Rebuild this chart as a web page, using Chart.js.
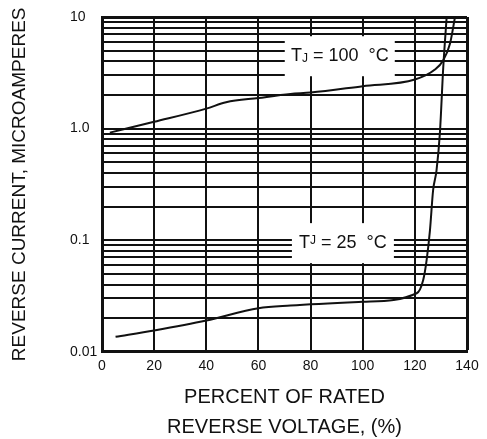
<!DOCTYPE html>
<html lang="en">
<head>
    <meta charset="UTF-8">
    <title>Reverse Current vs Reverse Voltage</title>
    <script src="https://cdn.jsdelivr.net/npm/chart.js"></script>
    <style>
        body { margin: 0; background: #fff; }
        canvas { display: block; }
    </style>
</head>
<body>
    <canvas id="chart" width="487" height="439"></canvas>
    <script>
        // percent of rated reverse voltage / reverse current (uA)
        const voltage100 = [3, 20, 40, 47.6, 60, 72.3, 80, 100, 120, 127.7, 130.9, 133.5, 135.4];
        const current100 = [0.92, 1.15, 1.51, 1.72, 1.88, 2.04, 2.1, 2.4, 2.75, 3.38, 4.1, 5.8, 10];

        const voltage25 = [5.2, 20, 40, 60, 72.3, 100, 120.7, 123.2, 124.5, 125.8, 127, 128.3, 129.6, 130.9, 132.2];
        const current25 = [0.0136, 0.0155, 0.019, 0.0245, 0.0259, 0.028, 0.0334, 0.044, 0.066, 0.123, 0.28, 0.42, 0.91, 3.56, 10];

        const yTickValues = [
            0.01, 0.02, 0.03, 0.04, 0.05, 0.06, 0.07, 0.08, 0.09,
            0.1, 0.2, 0.3, 0.4, 0.5, 0.6, 0.7, 0.8, 0.9,
            1, 2, 3, 4, 5, 6, 7, 8, 9, 10
        ];
        const yTickLabels = { 0.01: '0.01', 0.1: '0.1', 1: '1.0', 10: '10' };

        const curveLabels = [
            { sub: 'J', rest: ' = 100  \u00B0C', x: 91.2, y: 4.45 },
            { sub: 'J', rest: ' = 25  \u00B0C', x: 92.4, y: 0.094 }
        ];
        const yTitle = 'REVERSE CURRENT, MICROAMPERES';
        const xTitle = ['PERCENT OF RATED', 'REVERSE VOLTAGE, (%)'];

        const FONT = '"Liberation Sans", Arial, sans-serif';
        const INK = '#111';
        Chart.defaults.font.family = FONT;
        Chart.defaults.color = INK;

        function toPoints(xs, ys) {
            return xs.map((x, i) => ({ x: x, y: ys[i] }));
        }

        // white boxes with the temperature labels, and the rotated y title
        const labelPlugin = {
            id: 'labels',
            beforeDatasetsDraw(chart) {
                const ctx = chart.ctx;
                const xs = chart.scales.x, ys = chart.scales.y;
                ctx.save();
                curveLabels.forEach((lab, i) => {
                    const cx = xs.getPixelForValue(lab.x);
                    const cy = ys.getPixelForValue(lab.y);
                    const w = i === 0 ? 110 : 102;
                    ctx.fillStyle = '#fff';
                    ctx.fillRect(cx - w / 2, cy - 20, w, 40);

                    ctx.fillStyle = INK;
                    ctx.textBaseline = 'middle';
                    ctx.textAlign = 'left';
                    ctx.font = '18px ' + FONT;
                    const tW = ctx.measureText('T').width;
                    ctx.font = '12px ' + FONT;
                    const jW = ctx.measureText(lab.sub).width;
                    ctx.font = '18px ' + FONT;
                    const rW = ctx.measureText(lab.rest).width;
                    let x = cx - (tW + jW + rW) / 2;
                    ctx.fillText('T', x, cy);
                    x += tW;
                    ctx.font = '12px ' + FONT;
                    ctx.fillText(lab.sub, x, i === 0 ? cy + 2 : cy - 2);
                    x += jW;
                    ctx.font = '18px ' + FONT;
                    ctx.fillText(lab.rest, x, cy);
                });
                ctx.restore();
            },
            afterDraw(chart) {
                const ctx = chart.ctx;
                const area = chart.chartArea;
                ctx.save();
                ctx.translate(20, (area.top + area.bottom) / 2);
                ctx.rotate(-Math.PI / 2);
                ctx.font = '19px ' + FONT;
                ctx.fillStyle = INK;
                ctx.textAlign = 'center';
                ctx.textBaseline = 'middle';
                ctx.fillText(yTitle, 0, 0);
                ctx.restore();
            }
        };

        new Chart(document.getElementById('chart'), {
            type: 'line',
            data: {
                datasets: [
                    {
                        label: 'TJ = 100 C',
                        data: toPoints(voltage100, current100),
                        borderColor: INK,
                        borderWidth: 2,
                        pointRadius: 0,
                        cubicInterpolationMode: 'monotone',
                        fill: false
                    },
                    {
                        label: 'TJ = 25 C',
                        data: toPoints(voltage25, current25),
                        borderColor: INK,
                        borderWidth: 2,
                        pointRadius: 0,
                        cubicInterpolationMode: 'monotone',
                        fill: false
                    }
                ]
            },
            options: {
                responsive: false,
                animation: false,
                devicePixelRatio: 1,
                layout: { padding: { left: 70, top: 17, right: 20, bottom: 0 } },
                plugins: {
                    legend: { display: false },
                    tooltip: { enabled: false }
                },
                scales: {
                    x: {
                        type: 'linear',
                        min: 0,
                        max: 140,
                        ticks: { stepSize: 20, padding: 6, font: { size: 14 } },
                        grid: {
                            color: INK,
                            lineWidth: c => (c.tick && c.tick.value === 140 ? 3 : 2),
                            drawTicks: false
                        },
                        border: { color: INK, width: 3 },
                        title: {
                            display: true,
                            text: xTitle,
                            font: { size: 20, lineHeight: 1.5 },
                            color: INK,
                            padding: { top: 0, bottom: -3 }
                        },
                        afterFit: s => { s.height = 87.3; }
                    },
                    y: {
                        type: 'logarithmic',
                        min: 0.01,
                        max: 10,
                        afterBuildTicks: s => {
                            s.ticks = yTickValues.map(v => ({ value: v, major: v in yTickLabels }));
                        },
                        ticks: {
                            autoSkip: false,
                            crossAlign: 'far',
                            font: { size: 14 },
                            callback: v => yTickLabels[v] || ''
                        },
                        grid: {
                            color: INK,
                            lineWidth: c => (c.tick && c.tick.value === 10 ? 3 : 2),
                            drawTicks: false
                        },
                        border: { color: INK, width: 3 },
                        afterFit: s => { s.width = 32; }
                    }
                }
            },
            plugins: [labelPlugin]
        });
    </script>
</body>
</html>
